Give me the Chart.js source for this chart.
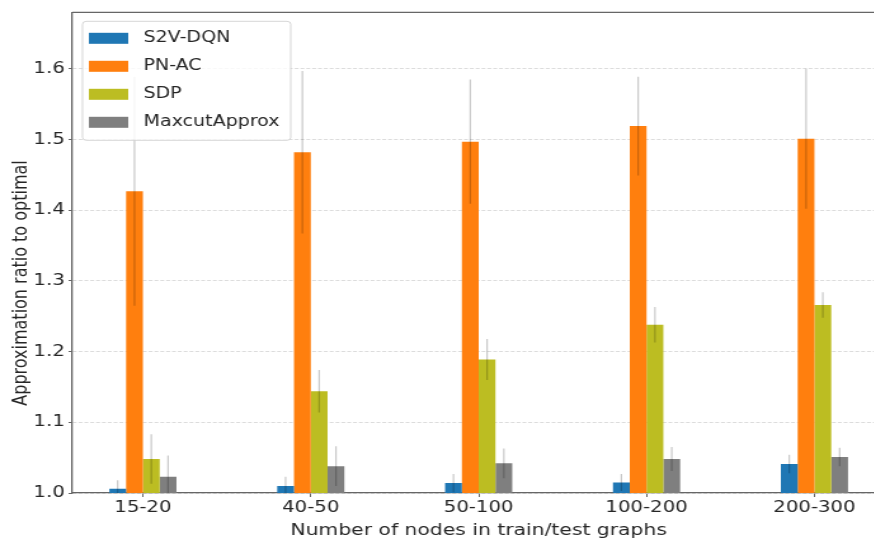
<!DOCTYPE html>
<html>
<head>
<meta charset="utf-8">
<script src="https://cdn.jsdelivr.net/npm/chart.js@4.4.1/dist/chart.umd.min.js"></script>
<style>
  html, body { margin: 0; padding: 0; background: #fff; overflow: hidden; }
  #wrap { width: 874px; height: 544px; overflow: hidden; position: relative; }
</style>
</head>
<body>
<!-- the original figure is stretched horizontally, so the canvas is too (and cut on the right) -->
<div id="wrap">
<canvas id="chart" width="712" height="544" style="width:904px;height:544px"></canvas>
</div>
<script>
// categories and values
var categories = ['15-20', '40-50', '50-100', '100-200', '200-300'];
var yTicks = [1.0, 1.1, 1.2, 1.3, 1.4, 1.5, 1.6];
var yTitle = 'Approximation ratio to optimal';

var s2vDqn = [1.006, 1.010, 1.014, 1.015, 1.041];
var s2vDqnErr = [0.012, 0.013, 0.013, 0.012, 0.013];

var pnAc = [1.427, 1.482, 1.497, 1.519, 1.501];
var pnAcErr = [0.162, 0.115, 0.088, 0.070, 0.099];

var sdp = [1.048, 1.144, 1.189, 1.238, 1.266];
var sdpErr = [0.035, 0.030, 0.029, 0.025, 0.018];

var maxcutApprox = [1.023, 1.038, 1.042, 1.048, 1.051];
var maxcutApproxErr = [0.030, 0.028, 0.021, 0.017, 0.013];

function points(values) {
    return values.map(function (v, i) { return { x: i, y: v }; });
}

// vertical error lines, drawn through the y scale
var errorBars = {
    id: 'errorBars',
    afterDatasetsDraw: function (chart) {
        var ctx = chart.ctx, y = chart.scales.y, area = chart.chartArea;
        ctx.save();
        ctx.beginPath();
        ctx.rect(area.left, area.top, area.right - area.left, area.bottom - area.top);
        ctx.clip();
        ctx.strokeStyle = 'rgba(0, 0, 0, 0.22)';
        ctx.lineWidth = 1.2;
        chart.data.datasets.forEach(function (ds, di) {
            var meta = chart.getDatasetMeta(di);
            meta.data.forEach(function (bar, i) {
                var v = ds.data[i].y, e = ds.errors[i];
                ctx.beginPath();
                ctx.moveTo(bar.x, y.getPixelForValue(v - e));
                ctx.lineTo(bar.x, y.getPixelForValue(v + e));
                ctx.stroke();
            });
        });
        ctx.restore();
    }
};

// top frame line, y title (sits a bit below centre in the original) and the legend box
var frameAndLegend = {
    id: 'frameAndLegend',
    afterDraw: function (chart) {
        var ctx = chart.ctx, area = chart.chartArea;
        ctx.save();
        ctx.strokeStyle = '#666';
        ctx.lineWidth = 1.3;
        ctx.beginPath();
        ctx.moveTo(area.left, area.top);
        ctx.lineTo(area.right, area.top);
        ctx.stroke();

        ctx.save();
        ctx.translate(16.5, 283);
        ctx.rotate(-Math.PI / 2);
        ctx.font = '16px "DejaVu Sans"';
        ctx.fillStyle = '#262626';
        ctx.textAlign = 'center';
        ctx.textBaseline = 'middle';
        ctx.fillText(yTitle, 0, 0);
        ctx.restore();

        var bx = area.left + 8, by = area.top + 9, bw = 164, bh = 119;
        ctx.fillStyle = 'rgba(255, 255, 255, 0.8)';
        ctx.strokeStyle = 'rgba(204, 204, 204, 0.8)';
        ctx.lineWidth = 1;
        ctx.beginPath();
        ctx.roundRect(bx, by, bw, bh, 3);
        ctx.fill();
        ctx.stroke();

        ctx.font = '15px "DejaVu Sans"';
        ctx.textBaseline = 'middle';
        ctx.textAlign = 'left';
        chart.data.datasets.forEach(function (ds, i) {
            var cy = by + 17 + i * 28;
            ctx.fillStyle = ds.backgroundColor;
            ctx.fillRect(bx + 5, cy - 5.5, 31, 11);
            ctx.fillStyle = '#262626';
            ctx.fillText(ds.label, bx + 48, cy);
        });
        ctx.restore();
    }
};

var ctx = document.getElementById('chart').getContext('2d');
var chart = new Chart(ctx, {
    type: 'bar',
    data: {
        datasets: [
            { label: 'S2V-DQN', data: points(s2vDqn), errors: s2vDqnErr, backgroundColor: '#1f77b4' },
            { label: 'PN-AC', data: points(pnAc), errors: pnAcErr, backgroundColor: '#ff7f0e' },
            { label: 'SDP', data: points(sdp), errors: sdpErr, backgroundColor: '#bcbd22' },
            { label: 'MaxcutApprox', data: points(maxcutApprox), errors: maxcutApproxErr, backgroundColor: '#7f7f7f' }
        ]
    },
    options: {
        responsive: false,
        devicePixelRatio: 1,
        animation: false,
        categoryPercentage: 0.4,
        barPercentage: 1.0,
        layout: { padding: { top: 11, right: 15, left: 0, bottom: 0 } },
        plugins: {
            legend: { display: false },
            tooltip: { enabled: false }
        },
        scales: {
            x: {
                type: 'linear',
                offset: false,
                min: -0.42,
                max: 4.42,
                afterBuildTicks: function (scale) {
                    scale.ticks = categories.map(function (c, i) { return { value: i }; });
                },
                afterFit: function (scale) { scale.height = 51; },
                ticks: {
                    callback: function (v) { return categories[v]; },
                    font: { family: 'DejaVu Sans', size: 15.5 },
                    color: '#262626',
                    padding: 2,
                    maxRotation: 0,
                    autoSkip: false
                },
                grid: { offset: false, drawOnChartArea: false, tickLength: 4, tickColor: '#666' },
                border: { color: '#666', width: 1.3 },
                title: {
                    display: true,
                    text: 'Number of nodes in train/test graphs',
                    font: { family: 'DejaVu Sans', size: 16 },
                    color: '#262626',
                    padding: { top: 0, bottom: 4 }
                }
            },
            y: {
                min: 1.0,
                max: 1.68,
                afterBuildTicks: function (scale) {
                    scale.ticks = yTicks.map(function (v) { return { value: v }; });
                },
                afterFit: function (scale) { scale.width = 57; },
                ticks: {
                    callback: function (v) { return v.toFixed(1); },
                    font: { family: 'DejaVu Sans', size: 15.5 },
                    color: '#262626',
                    padding: 3
                },
                grid: { color: '#dcdcdc', lineWidth: 1, tickLength: 3, tickColor: '#666', tickBorderDash: [] },
                border: { color: '#666', width: 1.3, dash: [3, 1.6] }
            }
        }
    },
    plugins: [errorBars, frameAndLegend]
});
</script>
</body>
</html>
